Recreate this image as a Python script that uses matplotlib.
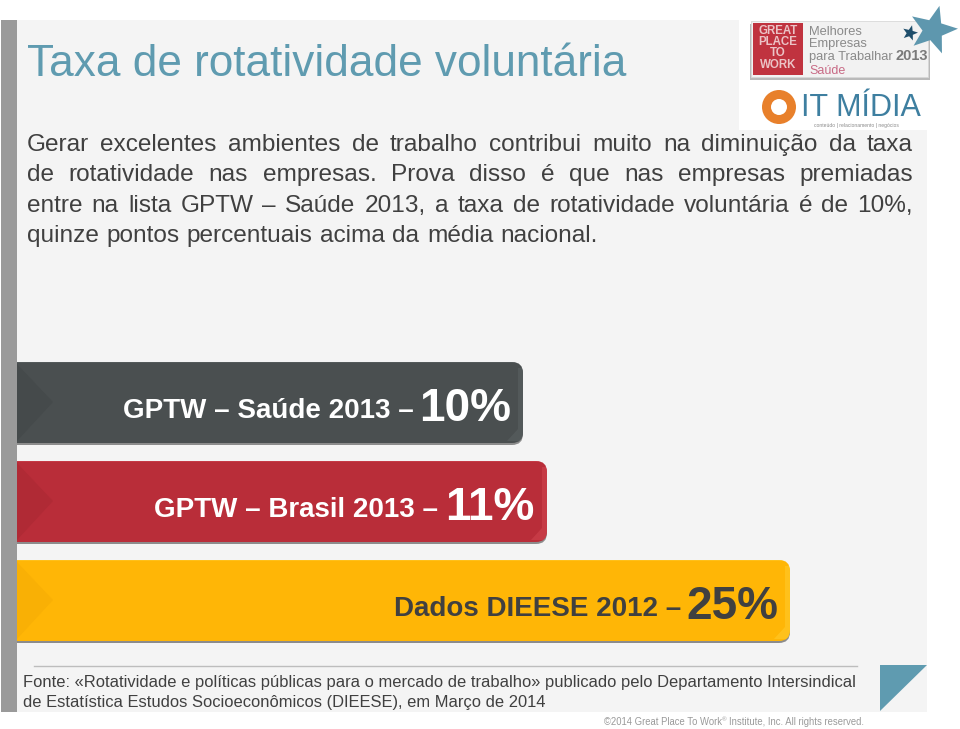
import numpy as np
import matplotlib
matplotlib.use("Agg")
import matplotlib.pyplot as plt
from matplotlib.patches import Rectangle, Polygon, FancyBboxPatch, Circle

plt.rcParams['font.family'] = ['Liberation Sans', 'DejaVu Sans']

# --- data ---
categories = ["GPTW – Saúde 2013 –", "GPTW – Brasil 2013 –", "Dados DIEESE 2012 –"]
values = [10, 11, 25]
value_labels = ["10%", "11%", "25%"]
bar_colors = ["#4A4F50", "#B92D39", "#FFB606"]
bar_dark = ["#454A4B", "#B02A35", "#F9B005"]
bar_light = ["#5C6263", "#D24550", "#FFCB2E"]
text_colors = ["white", "white", "#404040"]
title = "Taxa de rotatividade voluntária"
body_lines = [
    "Gerar excelentes ambientes de trabalho contribui muito na diminuição da taxa",
    "de rotatividade nas empresas. Prova disso é que nas empresas premiadas",
    "entre na lista GPTW – Saúde 2013, a taxa de rotatividade voluntária é de 10%,",
    "quinze pontos percentuais acima da média nacional.",
]
source_lines = [
    "Fonte: «Rotatividade e políticas públicas para o mercado de trabalho» publicado pelo Departamento Intersindical",
    "de Estatística Estudos Socioeconômicos (DIEESE), em Março de 2014",
]
copyright_text = "©2014 Great Place To Work"
copyright_tail = "Institute, Inc. All rights reserved."

W, H = 960, 729
fig = plt.figure(figsize=(W / 100, H / 100), dpi=100, facecolor="white")

def overlay(z):
    a = fig.add_axes([0, 0, 1, 1], zorder=z)
    a.set_xlim(0, W); a.set_ylim(H, 0); a.axis("off")
    return a

bg = overlay(0)
ax = fig.add_axes([17 / W, 1 - 650 / H, (927 - 17) / W, (650 - 355) / H], zorder=1)
top = overlay(2)

# slide panel
bg.add_patch(Rectangle((16, 20), 911, 692, fc="#F4F4F4", ec="none", zorder=0))
bg.add_patch(Rectangle((0.5, 20), 16, 692, fc="#9A9A9A", ec="none", zorder=1))
bg.add_patch(Rectangle((739, 0), 221, 130, fc="white", ec="none", zorder=1))

# title
top.text(27, 76, title, fontsize=31.8, color="#5F9BB0", va="baseline", ha="left")

renderer = fig.canvas.get_renderer()
def width(s, fs, **kw):
    t = top.text(0, 0, s, fontsize=fs, **kw)
    w = t.get_window_extent(renderer).width
    t.remove()
    return w

def justified(line, x0, x1, y, fs, color, space=None):
    words = line.split(" ")
    ws = [width(w, fs) for w in words]
    gap = (x1 - x0 - sum(ws)) / (len(words) - 1) if space is None else space
    x = x0
    for w, wd in zip(words, ws):
        top.text(x, y, w, fontsize=fs, color=color, ha="left", va="baseline")
        x += wd + gap

body_fs = 17.6
body_y = [151, 181, 212, 242]
space_w = width("a a", body_fs) - width("aa", body_fs)
for i, line in enumerate(body_lines):
    justified(line, 27, 913, body_y[i], body_fs, "#404040", space=None if i < 3 else space_w * 1.1)

# bars
ax.patch.set_alpha(0)
pv = [0, 10, 11, 25, 30]
px = [0, 506, 530, 773, 910]
ax.set_xscale("function", functions=(lambda v: np.interp(v, pv, px),
                                     lambda p: np.interp(p, px, pv)))
ax.set_xlim(0, 30)
ax.set_ylim(2.5, -0.48)
ax.axis("off")
bar_h = 0.818
y = np.arange(3)
shadow = ax.barh(y + 0.02, values, height=bar_h, color="#8C8C8C", zorder=1)
bars = ax.barh(y, values, height=bar_h, color=bar_colors, zorder=2)

def rounded(x0, yb, x1, yt):
    p = FancyBboxPatch((x0 - 30, yb), x1 - x0 + 30, yt - yb,
                       boxstyle="round,pad=0,rounding_size=11", transform=top.transData,
                       fc="none", ec="none")
    top.add_patch(p)
    return p

for i, (b, s) in enumerate(zip(bars, shadow)):
    bb = b.get_window_extent(renderer)
    x0, x1 = bb.x0, bb.x1
    yb, yt = H - bb.y1, H - bb.y0
    clip = rounded(x0, yb, x1, yt)
    b.set_clip_path(clip)
    s.set_clip_path(rounded(x0, yb + 2, x1, yt + 2))
    # bevels
    top.add_patch(Polygon([(x0, yb + 2), (x0 + 36, yb + 40), (x0, yt - 2)],
                          fc=bar_dark[i], ec="none", zorder=1))
    edge = Polygon([(x1 - 5, yb + 6), (x1, yb + 6), (x1, yt - 2), (x1 - 16, yt - 2), (x1 - 5, yt - 14)],
                   fc=bar_light[i], ec="none", alpha=0.55, zorder=1)
    top.add_patch(edge)
    edge.set_clip_path(clip)
    line = Rectangle((x0, yb), x1 - x0, 1.2, fc=bar_light[i], ec="none", alpha=0.5, zorder=1)
    top.add_patch(line)
    line.set_clip_path(clip)
    # labels
    top.text(x1 - 12, yt - 22, value_labels[i], fontsize=33, fontweight="bold",
             color=text_colors[i], ha="right", va="baseline", zorder=3)
    top.text(x1 - 109, yt - 25, categories[i], fontsize=20, fontweight="bold",
             color=text_colors[i], ha="right", va="baseline", zorder=3)

# source block
top.plot([34, 857], [665.5, 665.5], color="#BDBDBD", lw=1)
top.text(23, 687, source_lines[0], fontsize=11.89, color="#404040", va="baseline")
top.text(23, 707, source_lines[1], fontsize=11.93, color="#404040", va="baseline")
top.add_patch(Polygon([(880, 665), (927, 665), (880, 711)], fc="#5F9BB0", ec="none"))

cfs = 6.85
cw = width(copyright_text, cfs)
top.text(604, 725, copyright_text, fontsize=cfs, color="#9A9A9A", va="baseline")
top.text(604 + cw, 721, "®", fontsize=4.5, color="#9A9A9A", va="baseline")
top.text(604 + cw + 7, 725, copyright_tail, fontsize=cfs, color="#9A9A9A", va="baseline")

# logos
top.add_patch(Rectangle((750, 24), 180, 56, fc="#8C8C8C", ec="none", alpha=0.6))
top.add_patch(Rectangle((751, 21), 177, 56, fc="#F2F2F2", ec="#D8D8D8", lw=0.6))
top.add_patch(Rectangle((753, 23), 50, 52, fc="#C0333F", ec="none"))
for s, yy in zip(["GREAT", "PLACE", "TO", "WORK"], [34, 45, 56, 68]):
    top.text(778, yy, s, fontsize=8.3, color="#EBC3C6", fontweight="bold", ha="center", va="baseline")
for s, yy, cc, fs in [("Melhores", 35, "#8A8A8A", 9.3), ("Empresas", 47, "#8A8A8A", 9.3),
                      ("para Trabalhar", 60, "#8A8A8A", 9.3), ("Saúde", 74, "#C86A85", 9)]:
    top.text(809, yy, s, fontsize=fs, color=cc, va="baseline")
top.text(896, 60, "2013", fontsize=10.5, fontweight="bold", color="#7A7A7A", va="baseline")

def star(cx, cy, r, c, rot=15):
    a = np.deg2rad(np.arange(10) * 36 - 90 + rot)
    rr = np.where(np.arange(10) % 2 == 0, r, r * 0.42)
    top.add_patch(Polygon(np.c_[cx + rr * np.cos(a), cy + rr * np.sin(a)], fc=c, ec="none", zorder=2))

star(933, 30, 25, "#5E97AE")
star(910, 33, 8, "#1F4E6B")
top.add_patch(Circle((779, 107), 17, fc="#E8802B", ec="none"))
top.add_patch(Circle((779, 107), 8, fc="white", ec="none"))
top.text(801, 116, "IT MÍDIA", fontsize=22, color="#3E7FA0", va="baseline")
top.text(814, 127, "conteúdo | relacionamento | negócios", fontsize=3.6, color="#8A8A8A", va="baseline")

fig.savefig("out.png", dpi=100, facecolor="white")
